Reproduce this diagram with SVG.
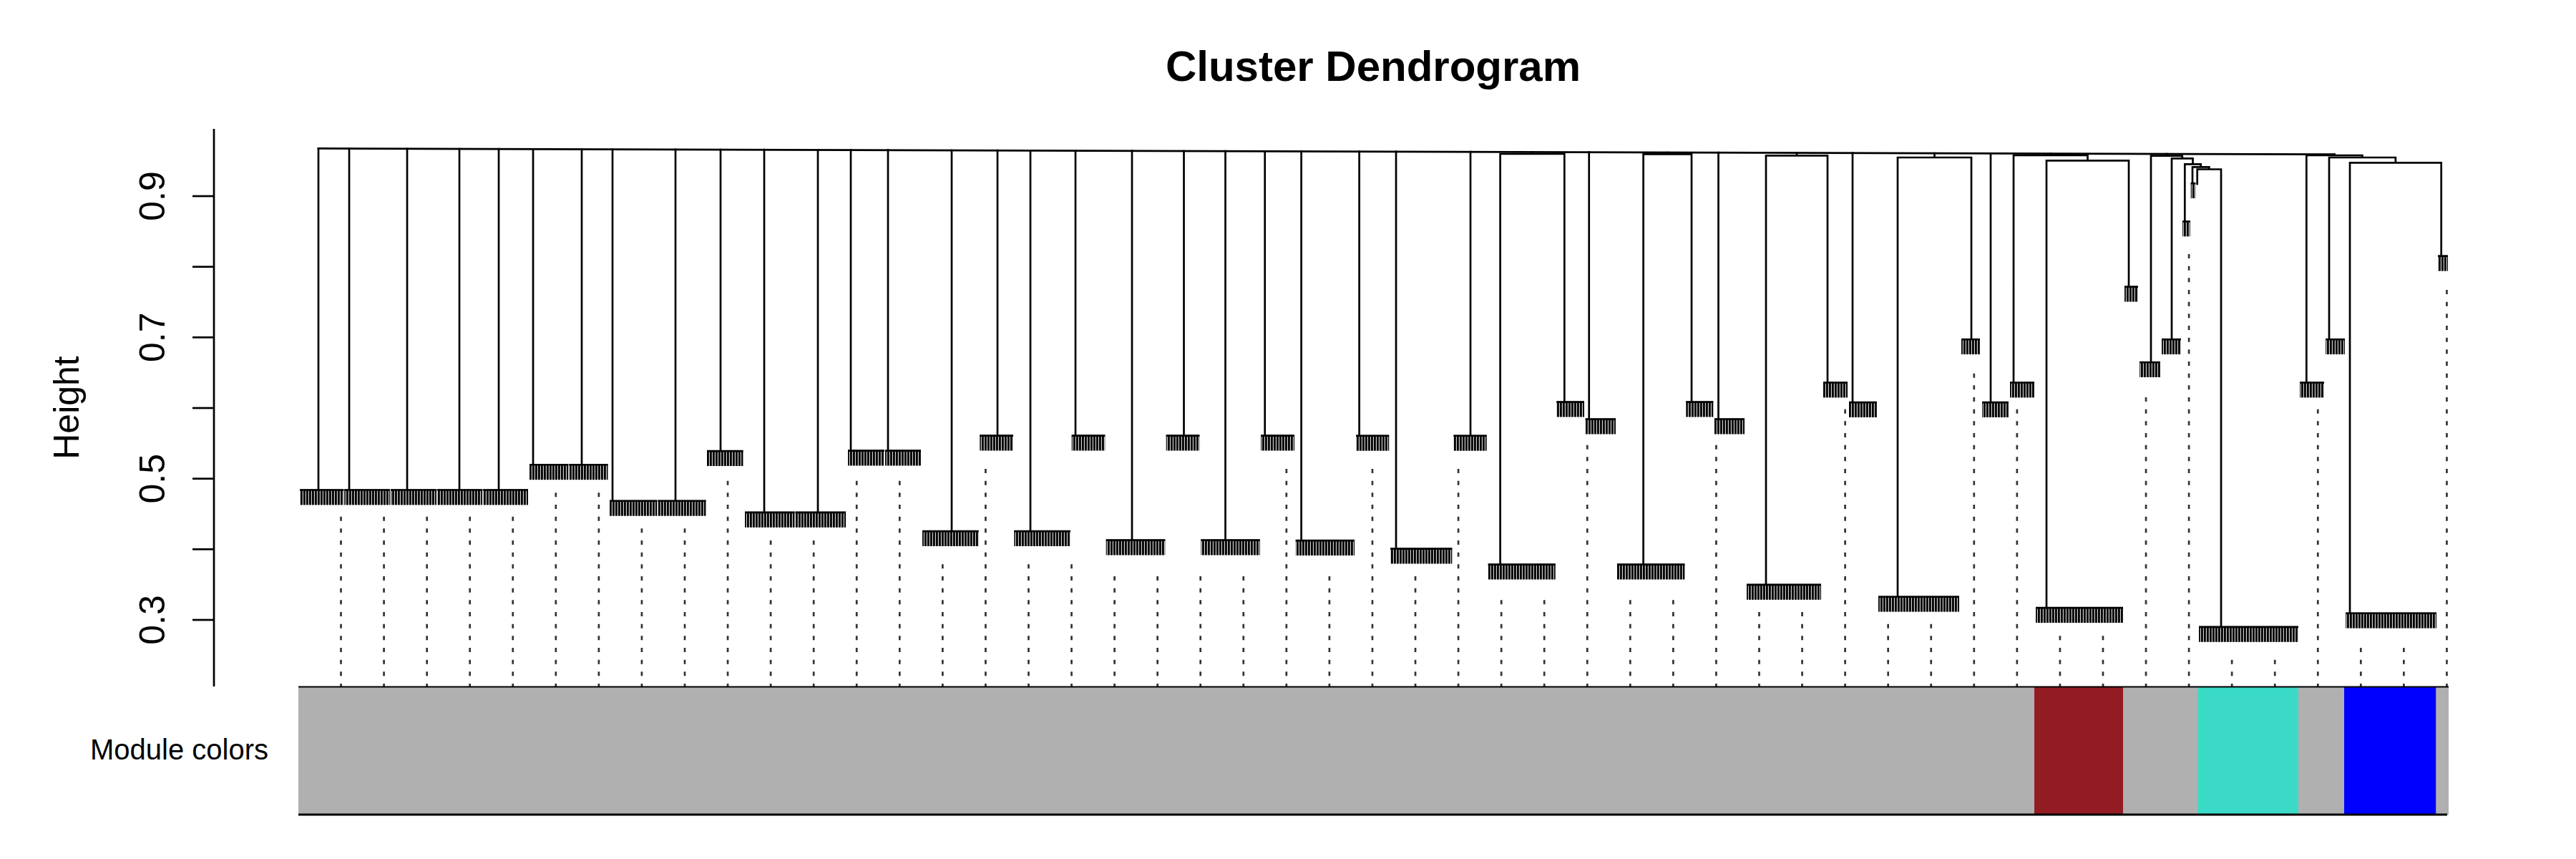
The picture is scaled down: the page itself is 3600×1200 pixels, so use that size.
<svg xmlns="http://www.w3.org/2000/svg" width="3600" height="1200" viewBox="0 0 3600 1200">
<style>
text{font-family:"Liberation Sans",Arial,Helvetica,sans-serif;fill:#000}
.br{stroke:#000;stroke-width:2.7;fill:none;stroke-linecap:square}
.lf{stroke:#333;stroke-width:2.7;stroke-dasharray:6 10.667}
.node rect{fill:url(#hatch)}
.node line{stroke:#000;stroke-width:2.6}
.ax{stroke:#000;stroke-width:2.7}
</style>
<defs>
<pattern id="hatch" patternUnits="userSpaceOnUse" width="4" height="10">
<rect width="4" height="10" fill="#d0d0d0"/>
<rect width="2.8" height="10" fill="#000"/>
</pattern>
</defs>
<rect width="3600" height="1200" fill="#fff"/>
<text x="1919" y="113" font-size="60" font-weight="bold" text-anchor="middle">Cluster Dendrogram</text>
<g id="axis">
<line class="ax" x1="299" y1="180" x2="299" y2="959"/>
<line class="ax" x1="269" y1="274" x2="299" y2="274"/>
<line class="ax" x1="269" y1="372.7" x2="299" y2="372.7"/>
<line class="ax" x1="269" y1="471.3" x2="299" y2="471.3"/>
<line class="ax" x1="269" y1="570" x2="299" y2="570"/>
<line class="ax" x1="269" y1="668.7" x2="299" y2="668.7"/>
<line class="ax" x1="269" y1="767.3" x2="299" y2="767.3"/>
<line class="ax" x1="269" y1="866" x2="299" y2="866"/>
<text font-size="50" text-anchor="middle" transform="translate(230,274) rotate(-90)">0.9</text>
<text font-size="50" text-anchor="middle" transform="translate(230,471.3) rotate(-90)">0.7</text>
<text font-size="50" text-anchor="middle" transform="translate(230,668.7) rotate(-90)">0.5</text>
<text font-size="50" text-anchor="middle" transform="translate(230,866) rotate(-90)">0.3</text>
<text font-size="50" text-anchor="middle" transform="translate(110,569.5) rotate(-90)">Height</text>
</g>
<g id="connectors">
<path class="br" d="M445,207.4 L3262.35,215.7"/>
<path class="br" d="M445,207.4V683.4M488,207.5V683.4M569,207.8V683.4M642,208V683.4M697,208.1V683.4M745,208.3V648.2M813,208.5V648.2M856,208.6V698.7M944,208.9V698.7M1007,209.1V629M1068,209.2V714.8M1143,209.5V714.8M1189,209.6V628.5M1241,209.7V628.5M1330,210V741M1394,210.2V607.5M1440,210.3V741M1503,210.5V607.5M1582,210.7V753.5M1654.5,211V607.5M1712.5,211.1V753.5M1767.7,211.3V607.5M1818.6,211.4V754M1899.6,211.7V607.7M1951,211.8V765.5M2055,212.1V607.7"/>
<path class="br" d="M2141.5,212.4V215M2096.6,787.5V215H2186.3V560.5M2220.7,212.6V584.5M2330.3,213V215.3M2296.6,787.5V215.3H2364V560.5M2401.5,213.2V584.5"/>
<path class="br" d="M2511,213.5V217.3M2468,815.8V217.3H2554V533.4M2589,213.7V561M2703.5,214.1V220M2652,832.6V220H2755V473M2782,214.3V561"/>
<path class="br" d="M2865.75,214.5V217M2814,533.4V217H2917.5V224.3M2860,848V224.3H2975V399.5"/>
<path class="br" d="M3027.9,215V217.7M3006,505V217.7H3049.75V221.3M3035,473V221.3H3064.5V229.3M3053.3,308.3V229.3H3075.7V233.3M3064,255V233.3H3087.35V236.5M3070.7,257V236.5H3104V874.8"/>
<path class="br" d="M3262.35,215.7V217M3223.3,533.4V217H3301.4V220M3255,473V220H3347.85V227.3M3284,855.6V227.3H3411.7V356.6"/>
</g>
<g id="nodes">
<g id="node-A" class="node">
<rect x="419" y="683.4" width="61.3" height="22"/><rect x="481.3" y="683.4" width="63.7" height="22"/><rect x="546" y="683.4" width="63.8" height="22"/><rect x="610.8" y="683.4" width="63" height="22"/><rect x="674.8" y="683.4" width="63.2" height="22"/>
<line x1="419" y1="684.5" x2="480.3" y2="684.5"/><line x1="481.3" y1="684.5" x2="545" y2="684.5"/><line x1="546" y1="684.5" x2="609.8" y2="684.5"/><line x1="610.8" y1="684.5" x2="673.8" y2="684.5"/><line x1="674.8" y1="684.5" x2="738" y2="684.5"/>
</g>
<g id="node-B" class="node">
<rect x="740" y="648.2" width="54.3" height="22"/><rect x="795.3" y="648.2" width="54.2" height="22"/>
<line x1="740" y1="649.3" x2="794.3" y2="649.3"/><line x1="795.3" y1="649.3" x2="849.5" y2="649.3"/>
</g>
<g id="node-C" class="node">
<rect x="852" y="698.7" width="66.3" height="22"/><rect x="919.3" y="698.7" width="67.2" height="22"/>
<line x1="852" y1="699.8" x2="918.3" y2="699.8"/><line x1="919.3" y1="699.8" x2="986.5" y2="699.8"/>
</g>
<g id="node-D" class="node"><rect x="988" y="629" width="50.5" height="22"/><line x1="988" y1="630.1" x2="1038.5" y2="630.1"/></g>
<g id="node-E" class="node">
<rect x="1041" y="714.8" width="69.5" height="22"/><rect x="1111.5" y="714.8" width="70.5" height="22"/>
<line x1="1041" y1="715.9" x2="1110.5" y2="715.9"/><line x1="1111.5" y1="715.9" x2="1182" y2="715.9"/>
</g>
<g id="node-F" class="node">
<rect x="1185" y="628.5" width="51" height="22"/><rect x="1237" y="628.5" width="50" height="22"/>
<line x1="1185" y1="629.6" x2="1236" y2="629.6"/><line x1="1237" y1="629.6" x2="1287" y2="629.6"/>
</g>
<g id="node-G" class="node"><rect x="1289" y="741" width="78.7" height="22"/><line x1="1289" y1="742.1" x2="1367.7" y2="742.1"/></g>
<g id="node-H" class="node"><rect x="1369.3" y="607.5" width="46.7" height="22"/><line x1="1369.3" y1="608.6" x2="1416" y2="608.6"/></g>
<g id="node-I" class="node"><rect x="1417.3" y="741" width="78.7" height="22"/><line x1="1417.3" y1="742.1" x2="1496" y2="742.1"/></g>
<g id="node-J" class="node"><rect x="1497.7" y="607.5" width="46.6" height="22"/><line x1="1497.7" y1="608.6" x2="1544.3" y2="608.6"/></g>
<g id="node-K" class="node"><rect x="1545.7" y="753.5" width="82.6" height="22"/><line x1="1545.7" y1="754.6" x2="1628.3" y2="754.6"/></g>
<g id="node-L" class="node"><rect x="1629.7" y="607.5" width="46.6" height="22"/><line x1="1629.7" y1="608.6" x2="1676.3" y2="608.6"/></g>
<g id="node-M" class="node"><rect x="1678.3" y="753.5" width="82.4" height="22"/><line x1="1678.3" y1="754.6" x2="1760.7" y2="754.6"/></g>
<g id="node-N" class="node"><rect x="1762" y="607.5" width="47" height="22"/><line x1="1762" y1="608.6" x2="1809" y2="608.6"/></g>
<g id="node-O" class="node"><rect x="1810.7" y="754" width="82.3" height="22"/><line x1="1810.7" y1="755.1" x2="1893" y2="755.1"/></g>
<g id="node-P" class="node"><rect x="1895" y="607.7" width="46.2" height="22"/><line x1="1895" y1="608.8" x2="1941.2" y2="608.8"/></g>
<g id="node-Q" class="node"><rect x="1943" y="765.5" width="86.3" height="22"/><line x1="1943" y1="766.6" x2="2029.3" y2="766.6"/></g>
<g id="node-R" class="node"><rect x="2031.3" y="607.7" width="46.3" height="22"/><line x1="2031.3" y1="608.8" x2="2077.6" y2="608.8"/></g>
<g id="node-S" class="node"><rect x="2079.6" y="787.5" width="94.1" height="22"/><line x1="2079.6" y1="788.6" x2="2173.7" y2="788.6"/></g>
<g id="node-T" class="node"><rect x="2175.2" y="560.5" width="38.8" height="22"/><line x1="2175.2" y1="561.6" x2="2214" y2="561.6"/></g>
<g id="node-U" class="node"><rect x="2215.6" y="584.5" width="42.3" height="22"/><line x1="2215.6" y1="585.6" x2="2257.9" y2="585.6"/></g>
<g id="node-V" class="node"><rect x="2259.9" y="787.5" width="94.5" height="22"/><line x1="2259.9" y1="788.6" x2="2354.4" y2="788.6"/></g>
<g id="node-W" class="node"><rect x="2356.3" y="560.5" width="38" height="22"/><line x1="2356.3" y1="561.6" x2="2394.3" y2="561.6"/></g>
<g id="node-X" class="node"><rect x="2395.9" y="584.5" width="42.1" height="22"/><line x1="2395.9" y1="585.6" x2="2438" y2="585.6"/></g>
<g id="node-Y1" class="node"><rect x="2441" y="815.8" width="104" height="22"/><line x1="2441" y1="816.9" x2="2545" y2="816.9"/></g>
<g id="node-Y2" class="node"><rect x="2548" y="533.4" width="34" height="22"/><line x1="2548" y1="534.5" x2="2582" y2="534.5"/></g>
<g id="node-Y3" class="node"><rect x="2584" y="561" width="39" height="22"/><line x1="2584" y1="562.1" x2="2623" y2="562.1"/></g>
<g id="node-Y4" class="node"><rect x="2625" y="832.6" width="113" height="22"/><line x1="2625" y1="833.7" x2="2738" y2="833.7"/></g>
<g id="node-Y5" class="node"><rect x="2741" y="473" width="26" height="22"/><line x1="2741" y1="474.1" x2="2767" y2="474.1"/></g>
<g id="node-Y6" class="node"><rect x="2770" y="561" width="37" height="22"/><line x1="2770" y1="562.1" x2="2807" y2="562.1"/></g>
<g id="node-Y7" class="node"><rect x="2809" y="533.4" width="34" height="22"/><line x1="2809" y1="534.5" x2="2843" y2="534.5"/></g>
<g id="node-Y8" class="node"><rect x="2845" y="848" width="122" height="22"/><line x1="2845" y1="849.1" x2="2967" y2="849.1"/></g>
<g id="node-Y9" class="node"><rect x="2969" y="399.5" width="19" height="22"/><line x1="2969" y1="400.6" x2="2988" y2="400.6"/></g>
<g id="node-Y10" class="node"><rect x="2990" y="505" width="29" height="22"/><line x1="2990" y1="506.1" x2="3019" y2="506.1"/></g>
<g id="node-Y11" class="node"><rect x="3021" y="473" width="27" height="22"/><line x1="3021" y1="474.1" x2="3048" y2="474.1"/></g>
<g id="node-Y12" class="node"><rect x="3050" y="308.3" width="10.7" height="22"/><line x1="3050" y1="309.4" x2="3060.7" y2="309.4"/></g>
<g id="node-Y13" class="node"><rect x="3061.7" y="255" width="6.6" height="22"/><line x1="3061.7" y1="256.1" x2="3068.3" y2="256.1"/></g>
<g id="node-Y14" class="node"><rect x="3073" y="874.8" width="139" height="22"/><line x1="3073" y1="875.9" x2="3212" y2="875.9"/></g>
<g id="node-Y15" class="node"><rect x="3214" y="533.4" width="34" height="22"/><line x1="3214" y1="534.5" x2="3248" y2="534.5"/></g>
<g id="node-Y16" class="node"><rect x="3250" y="473" width="27" height="22"/><line x1="3250" y1="474.1" x2="3277" y2="474.1"/></g>
<g id="node-Y17" class="node"><rect x="3278" y="855.6" width="127" height="22"/><line x1="3278" y1="856.7" x2="3405" y2="856.7"/></g>
<g id="node-Y18" class="node"><rect x="3407" y="356.6" width="14" height="22"/><line x1="3407" y1="357.7" x2="3421" y2="357.7"/></g>
</g>
<g id="leaves">
<line class="lf" x1="476.5" y1="961" x2="476.5" y2="721.67"/>
<line class="lf" x1="536.56" y1="961" x2="536.56" y2="721.67"/>
<line class="lf" x1="596.62" y1="961" x2="596.62" y2="721.67"/>
<line class="lf" x1="656.68" y1="961" x2="656.68" y2="721.67"/>
<line class="lf" x1="716.74" y1="961" x2="716.74" y2="721.67"/>
<line class="lf" x1="776.8" y1="961" x2="776.8" y2="688.33"/>
<line class="lf" x1="836.86" y1="961" x2="836.86" y2="688.33"/>
<line class="lf" x1="896.92" y1="961" x2="896.92" y2="738.33"/>
<line class="lf" x1="956.98" y1="961" x2="956.98" y2="738.33"/>
<line class="lf" x1="1017.04" y1="961" x2="1017.04" y2="671.67"/>
<line class="lf" x1="1077.1" y1="961" x2="1077.1" y2="755"/>
<line class="lf" x1="1137.16" y1="961" x2="1137.16" y2="755"/>
<line class="lf" x1="1197.22" y1="961" x2="1197.22" y2="671.67"/>
<line class="lf" x1="1257.28" y1="961" x2="1257.28" y2="671.67"/>
<line class="lf" x1="1317.34" y1="961" x2="1317.34" y2="788.33"/>
<line class="lf" x1="1377.4" y1="961" x2="1377.4" y2="655"/>
<line class="lf" x1="1437.46" y1="961" x2="1437.46" y2="788.33"/>
<line class="lf" x1="1497.52" y1="961" x2="1497.52" y2="788.33"/>
<line class="lf" x1="1557.58" y1="961" x2="1557.58" y2="805"/>
<line class="lf" x1="1617.64" y1="961" x2="1617.64" y2="805"/>
<line class="lf" x1="1677.7" y1="961" x2="1677.7" y2="805"/>
<line class="lf" x1="1737.76" y1="961" x2="1737.76" y2="805"/>
<line class="lf" x1="1797.82" y1="961" x2="1797.82" y2="655"/>
<line class="lf" x1="1857.88" y1="961" x2="1857.88" y2="805"/>
<line class="lf" x1="1917.94" y1="961" x2="1917.94" y2="655"/>
<line class="lf" x1="1978" y1="961" x2="1978" y2="805"/>
<line class="lf" x1="2038.06" y1="961" x2="2038.06" y2="655"/>
<line class="lf" x1="2098.12" y1="961" x2="2098.12" y2="838.33"/>
<line class="lf" x1="2158.18" y1="961" x2="2158.18" y2="838.33"/>
<line class="lf" x1="2218.24" y1="961" x2="2218.24" y2="621.67"/>
<line class="lf" x1="2278.3" y1="961" x2="2278.3" y2="838.33"/>
<line class="lf" x1="2338.36" y1="961" x2="2338.36" y2="838.33"/>
<line class="lf" x1="2398.42" y1="961" x2="2398.42" y2="621.67"/>
<line class="lf" x1="2458.48" y1="961" x2="2458.48" y2="855"/>
<line class="lf" x1="2518.54" y1="961" x2="2518.54" y2="855"/>
<line class="lf" x1="2578.6" y1="961" x2="2578.6" y2="571.67"/>
<line class="lf" x1="2638.66" y1="961" x2="2638.66" y2="871.67"/>
<line class="lf" x1="2698.72" y1="961" x2="2698.72" y2="871.67"/>
<line class="lf" x1="2758.78" y1="961" x2="2758.78" y2="521.67"/>
<line class="lf" x1="2818.84" y1="961" x2="2818.84" y2="571.67"/>
<line class="lf" x1="2878.9" y1="961" x2="2878.9" y2="888.33"/>
<line class="lf" x1="2938.96" y1="961" x2="2938.96" y2="888.33"/>
<line class="lf" x1="2999.02" y1="961" x2="2999.02" y2="555"/>
<line class="lf" x1="3059.08" y1="961" x2="3059.08" y2="355"/>
<line class="lf" x1="3119.14" y1="961" x2="3119.14" y2="921.67"/>
<line class="lf" x1="3179.2" y1="961" x2="3179.2" y2="921.67"/>
<line class="lf" x1="3239.26" y1="961" x2="3239.26" y2="571.67"/>
<line class="lf" x1="3299.32" y1="961" x2="3299.32" y2="905"/>
<line class="lf" x1="3359.38" y1="961" x2="3359.38" y2="905"/>
<line class="lf" x1="3419.44" y1="961" x2="3419.44" y2="405"/>
</g>
<g id="module-colors">
<text x="375" y="1061" font-size="40" text-anchor="end">Module colors</text>
<rect x="417" y="959" width="3005" height="179" fill="#b0b0b0"/>
<rect x="2843" y="959" width="124" height="179" fill="#931b23"/>
<rect x="3071.4" y="959" width="140.4" height="179" fill="#3adac6"/>
<rect x="3276" y="959" width="128.2" height="179" fill="#0000ff"/>
<line x1="417" y1="959.5" x2="3422" y2="959.5" stroke="#000" stroke-width="1.8"/>
<line x1="417" y1="1138" x2="3420" y2="1138" stroke="#000" stroke-width="3"/>
</g>
</svg>
